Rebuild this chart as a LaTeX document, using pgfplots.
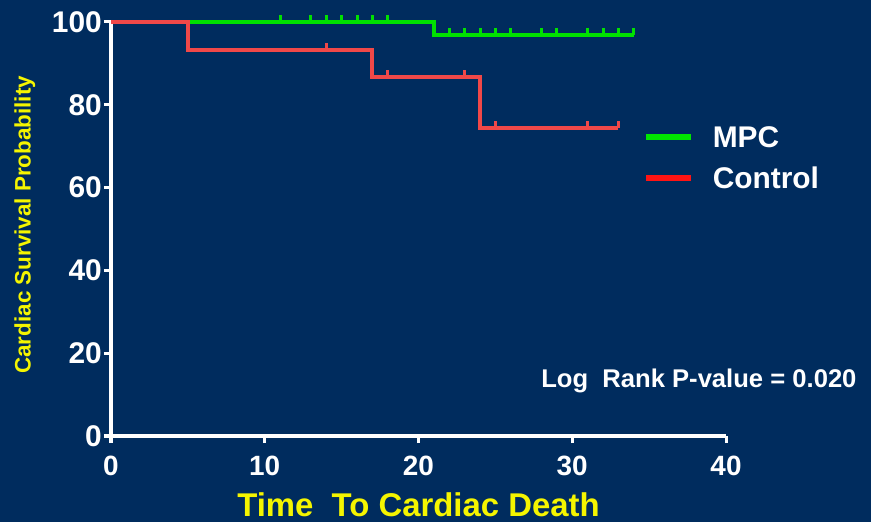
\documentclass[border=0pt]{standalone}
\usepackage{fontspec}
\setmainfont{Liberation Sans}
\usepackage{pgfplots}
\pgfplotsset{compat=1.18}
\definecolor{bg}{RGB}{0,44,94}
\definecolor{kmgreen}{RGB}{0,225,0}
\definecolor{kmred}{RGB}{240,72,72}
\definecolor{leggreen}{RGB}{0,230,0}
\definecolor{legred}{RGB}{255,20,20}
\definecolor{ylw}{RGB}{245,245,0}
\pgfdeclareplotmark{cens}{\pgfpathmoveto{\pgfpointorigin}\pgfpathlineto{\pgfpoint{0pt}{7bp}}\pgfusepathqstroke}
\begin{document}
\begin{tikzpicture}
\fill[bg] (0,0) rectangle (871bp,522bp);
\useasboundingbox (0,0) rectangle (871bp,522bp);
\begin{axis}[
  at={(111bp,86bp)}, anchor=south west,
  width=615bp, height=414bp, scale only axis,
  xmin=0, xmax=40, ymin=0, ymax=100,
  enlargelimits=false, clip=false,
  axis lines=left,
  axis line style={-, white, line width=3bp},
  xtick={0,10,20,30,40}, ytick={0,20,40,60,80,100},
  tick align=outside, major tick length=7bp,
  tick style={white, line width=3bp},
  /pgf/number format/assume math mode=true,
  yticklabel style={white, inner sep=2bp, font=\fontsize{30}{32}\selectfont\bfseries},
  xticklabel style={white, inner sep=2bp, yshift=-11bp, font=\fontsize{28}{30}\selectfont\bfseries},
  xlabel={Time\ \ To Cardiac Death},
  xlabel style={at={(axis description cs:0.5,-0.165)}, anchor=center, text=ylw, font=\fontsize{33}{35}\selectfont\bfseries},
  ylabel={Cardiac Survival Probability},
  ylabel style={at={(axis description cs:-0.14,0.51)}, anchor=center, text=ylw, font=\fontsize{22.5}{24}\selectfont\bfseries},
  legend style={at={(axis description cs:0.865,0.6715)}, anchor=west, draw=none, fill=none, inner sep=0pt,
    font=\fontsize{30}{32}\selectfont\bfseries, text=white, row sep=14bp,
    nodes={inner sep=2bp}},
  legend cell align=left,
]
% MPC
\addplot[const plot, kmgreen, line width=4bp, forget plot] coordinates {
 (0,100) (21,96.9) (34,96.9)
};
\addplot[only marks, mark=cens, kmgreen, mark options={line width=3bp}, forget plot] coordinates {
 (11,100) (13,100) (14,100) (15,100) (16,100) (17,100) (18,100)
 (22,96.9) (23,96.9) (24,96.9) (25,96.9) (26,96.9) (28,96.9) (29,96.9) (31,96.9) (32,96.9) (33,96.9) (34,96.9)
};
% Control
\addplot[const plot, kmred, line width=4bp, forget plot] coordinates {
 (0,100) (5,93.3) (17,86.7) (24,74.3) (33,74.3)
};
\addplot[only marks, mark=cens, kmred, mark options={line width=3bp}, forget plot] coordinates {
 (14,93.3) (18,86.7) (23,86.7) (25,74.3) (31,74.3) (33,74.3)
};
\addlegendimage{legend image code/.code={\draw[leggreen, line width=6bp] (0bp,0bp) -- (45bp,0bp);}}
\addlegendentry{\ \ MPC}
\addlegendimage{legend image code/.code={\draw[legred, line width=6bp] (0bp,0bp) -- (45bp,0bp);}}
\addlegendentry{\ \ Control}
\node[anchor=base east, white, font=\fontsize{25.7}{27}\selectfont\bfseries, inner sep=0pt] at (axis cs:48.5,11.8) {Log\ \ Rank P-value = 0.020};
\end{axis}
\end{tikzpicture}
\end{document}
